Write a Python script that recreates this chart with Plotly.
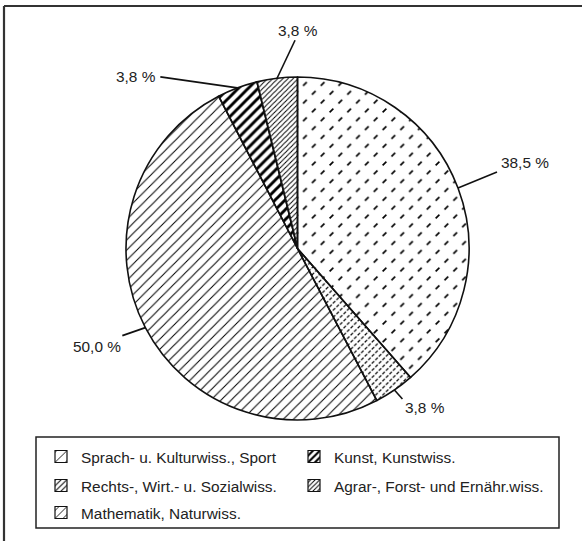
import math
import plotly.graph_objects as go

W, H = 582, 541

# ---- data ----
categories = [
    "Sprach- u. Kulturwiss., Sport",
    "Rechts-, Wirt.- u. Sozialwiss.",
    "Mathematik, Naturwiss.",
    "Kunst, Kunstwiss.",
    "Agrar-, Forst- und Ernähr.wiss.",
]
shares = [38.5, 3.8, 50.0, 3.8, 3.8]
value_labels = ["38,5 %", "3,8 %", "50,0 %", "3,8 %", "3,8 %"]

# ---- styles ----
FONT = "Liberation Sans, Arial, sans-serif"
FS = 15.4
TXT = "#222222"
base_shapes = ["/", "/", "/", "/", "/"]
base_sizes = [12.5, 5, 7.2, 7, 3.6]
base_solid = [0.13, 0.24, 0.14, 0.42, 0.28]
cut_shapes = ["\\", "\\", "", "", ""]
cut_sizes = [12.5, 5, 8, 8, 8]
cut_solid = [0.58, 0.33, 0.3, 0.3, 0.3]
legend_sizes = [9, 5, 7, 6, 4]
legend_solid = [0.12, 0.25, 0.15, 0.45, 0.3]

# pie placement (pixels)
cx, cy, r = 297.5, 248.5, 171.5
# leader offsets from slice edge (px) and label offsets from leader end
leader_off = [(39, -16), (8, 9), (-23, 8), (-77, -11), (18, -38)]
label_off = [(2, -10), (1, 9), (1, 11), (-2, 0), (3, -10)]
label_anchor = [("left", "middle"), ("left", "middle"), ("right", "middle"),
                ("right", "middle"), ("center", "middle")]
# legend slots (text start x, row centre y) in px
legend_pos = [(81, 457), (81, 486), (81, 513), (334, 457), (334, 486)]


def px(x):
    return x / W


def py(y):
    return 1 - y / H


dom_x = [px(cx - r), px(cx + r)]
dom_y = [py(cy + r), py(cy - r)]

fig = go.Figure()

# base patterned pie
fig.add_trace(go.Pie(
    labels=categories, values=shares, sort=False, direction="clockwise",
    rotation=0, textinfo="none", hoverinfo="skip", showlegend=False,
    domain=dict(x=dom_x, y=dom_y),
    marker=dict(colors=["white"] * 5, line=dict(width=0),
                pattern=dict(shape=base_shapes, size=base_sizes,
                             solidity=base_solid, fgcolor="black",
                             bgcolor="white", fillmode="replace")),
))
# cutter overlay (turns lines into dashes)
fig.add_trace(go.Pie(
    labels=categories, values=shares, sort=False, direction="clockwise",
    rotation=0, textinfo="none", hoverinfo="skip", showlegend=False,
    domain=dict(x=dom_x, y=dom_y),
    marker=dict(colors=["rgba(0,0,0,0)"] * 5, line=dict(width=0),
                pattern=dict(shape=cut_shapes, size=cut_sizes,
                             solidity=cut_solid, fgcolor="white",
                             bgcolor="rgba(0,0,0,0)", fillmode="replace")),
))
# outlines
fig.add_trace(go.Pie(
    labels=categories, values=shares, sort=False, direction="clockwise",
    rotation=0, textinfo="none", hoverinfo="skip", showlegend=False,
    domain=dict(x=dom_x, y=dom_y),
    marker=dict(colors=["rgba(0,0,0,0)"] * 5,
                line=dict(color="#111111", width=1.6)),
))

# legend entries (dummy bars carrying the patterns)
legend_names = ["legend", "legend2", "legend3", "legend4", "legend5"]
for i, cat in enumerate(categories):
    fig.add_trace(go.Bar(
        x=[None], y=[None], name=cat, legend=legend_names[i],
        marker=dict(color="white", line=dict(color="#111111", width=1.2),
                    pattern=dict(shape="/", size=legend_sizes[i],
                                 solidity=legend_solid[i], fgcolor="black",
                                 bgcolor="white", fillmode="replace")),
        hoverinfo="skip",
    ))

layout_legends = {}
for i, name in enumerate(legend_names):
    tx, ty = legend_pos[i]
    layout_legends[name] = dict(
        x=px(tx - 40), y=py(ty), xanchor="left", yanchor="middle",
        xref="paper", yref="paper", bgcolor="rgba(0,0,0,0)", borderwidth=0,
        font=dict(family=FONT, size=FS, color=TXT), itemclick=False,
    )

# labels and leader lines, computed from the values
total = sum(shares)
shapes = []
annotations = []
cum = 0.0
for i, v in enumerate(shares):
    mid = (cum + v / 2) / total * 2 * math.pi
    cum += v
    ex, ey = cx + r * math.sin(mid), cy - r * math.cos(mid)
    ox, oy = ex + leader_off[i][0], ey + leader_off[i][1]
    shapes.append(dict(type="line", xref="paper", yref="paper",
                       x0=px(ex), y0=py(ey), x1=px(ox), y1=py(oy),
                       line=dict(color="#111111", width=1.6)))
    lx, ly = ox + label_off[i][0], oy + label_off[i][1]
    annotations.append(dict(x=px(lx), y=py(ly), xref="paper", yref="paper",
                            text=value_labels[i], showarrow=False,
                            xanchor=label_anchor[i][0],
                            yanchor=label_anchor[i][1],
                            font=dict(family=FONT, size=FS, color=TXT)))

# outer frame: only the left and top edges are inside the image
shapes.append(dict(type="line", xref="paper", yref="paper",
                   x0=px(4), y0=py(6), x1=px(4), y1=py(W + 100),
                   line=dict(color="#333333", width=2.2)))
shapes.append(dict(type="line", xref="paper", yref="paper",
                   x0=px(4), y0=py(6), x1=px(W + 100), y1=py(6),
                   line=dict(color="#333333", width=2.2)))
# legend box
shapes.append(dict(type="rect", xref="paper", yref="paper",
                   x0=px(36), y0=py(437), x1=px(559), y1=py(528),
                   line=dict(color="#222222", width=1.5)))

fig.update_layout(
    width=W, height=H, margin=dict(l=0, r=0, t=0, b=0),
    paper_bgcolor="white", plot_bgcolor="white",
    xaxis=dict(visible=False), yaxis=dict(visible=False),
    shapes=shapes, annotations=annotations,
    **layout_legends,
)

fig.write_html("out.html",
               config={"displayModeBar": False},
               post_script="document.body.style.margin='0';"
                           "document.body.style.overflow='hidden';")
